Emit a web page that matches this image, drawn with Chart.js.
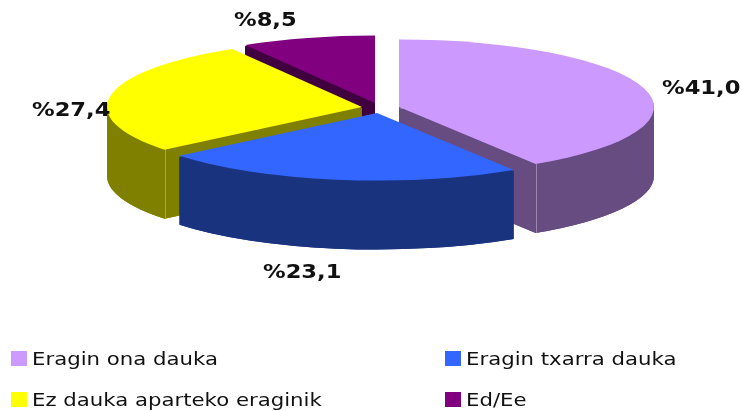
<!DOCTYPE html>
<html>
<head>
<meta charset="utf-8">
<style>
  html, body { margin: 0; padding: 0; background: #fff; }
  canvas { display: block; }
</style>
<script src="https://cdn.jsdelivr.net/npm/chart.js@4"></script>
</head>
<body>
<canvas id="pie" width="742" height="411"></canvas>
<script>
// Data
const categories = ['Eragin ona dauka', 'Eragin txarra dauka', 'Ez dauka aparteko eraginik', 'Ed/Ee'];
const values = [41.0, 23.1, 27.4, 8.5];
const topColors = ['#CC99FF', '#3366FF', '#FFFF00', '#800080'];
const sideColors = ['#664C80', '#19337F', '#808000', '#400040'];

// 3D look
const R = 255;          // radius on screen, x axis
const RY = 67.5;        // radius on screen, y axis
const DEPTH = 69;
const EXPLODE = 19;
const CY = 108;
const drawOrder = [3, 0, 2, 1]; // back to front

const fmt = v => '%' + v.toFixed(1).replace('.', ',');

function geom(arc) {
    const mid = (arc.startAngle + arc.endAngle) / 2;
    return {
        // whole pixels, so the straight vertical cuts stay crisp
        x: Math.round(arc.x + Math.cos(mid) * EXPLODE),
        y: Math.round(CY + Math.sin(mid) * EXPLODE * RY / R),
        r: arc.outerRadius,
        a0: arc.startAngle,
        a1: arc.endAngle
    };
}

function drawSide(ctx, arc, color) {
    const g = geom(arc);
    const ry = g.r * RY / R;
    const top = g.y + 1; // 1px under the top face, no dark fringe on the back edge
    const bottom = g.y + DEPTH;
    ctx.fillStyle = color;
    // bottom face
    ctx.beginPath();
    ctx.moveTo(g.x, bottom);
    ctx.ellipse(g.x, bottom, g.r, ry, 0, g.a0, g.a1);
    ctx.closePath();
    ctx.fill();
    // outer wall, split where the ellipse turns back so each band stays simple
    const cuts = [g.a0, ...[0, Math.PI].filter(a => a > g.a0 && a < g.a1), g.a1];
    for (let k = 0; k < cuts.length - 1; k++) {
        ctx.beginPath();
        ctx.ellipse(g.x, top, g.r, ry, 0, cuts[k], cuts[k + 1]);
        ctx.ellipse(g.x, bottom, g.r, ry, 0, cuts[k + 1], cuts[k], true);
        ctx.closePath();
        ctx.fill();
    }
    // the two cut faces
    [g.a0, g.a1].forEach(a => {
        const px = g.x + Math.cos(a) * g.r;
        const py = Math.sin(a) * ry;
        ctx.beginPath();
        ctx.moveTo(g.x, top);
        ctx.lineTo(px, top + py);
        ctx.lineTo(px, bottom + py);
        ctx.lineTo(g.x, bottom);
        ctx.closePath();
        ctx.fill();
    });
}

// thin light line on the corners that face the viewer
function drawCorner(ctx, arc, angle, color) {
    const g = geom(arc);
    const x = Math.round(g.x + Math.cos(angle) * g.r) + 0.5;
    const y = g.y + Math.sin(angle) * g.r * RY / R;
    ctx.strokeStyle = color;
    ctx.lineWidth = 1;
    ctx.beginPath();
    ctx.moveTo(x, y);
    ctx.lineTo(x, y + DEPTH);
    ctx.stroke();
}

// the reference font is wider than DejaVu, stretch it sideways
function wideText(ctx, text, x, y, sx) {
    ctx.save();
    ctx.translate(x, y);
    ctx.scale(sx, 1);
    ctx.fillText(text, 0, 0);
    ctx.restore();
}

const pie3d = {
    id: 'pie3d',
    beforeDatasetDraw(chart) {
        const ctx = chart.ctx;
        const arcs = chart.getDatasetMeta(0).data;
        drawOrder.forEach(i => {
            const g = geom(arcs[i]);
            drawSide(ctx, arcs[i], sideColors[i]);
            if (i === 0) drawCorner(ctx, arcs[i], arcs[i].endAngle, '#9C86B2');
            if (i === 2) drawCorner(ctx, arcs[i], arcs[i].startAngle, '#A8A840');
            ctx.save();
            ctx.translate(g.x, g.y);
            ctx.scale(1, RY / R);
            ctx.translate(-arcs[i].x, -arcs[i].y);
            arcs[i].draw(ctx);
            ctx.restore();
        });
        return false;
    },
    afterDraw(chart) {
        const ctx = chart.ctx;
        ctx.save();
        ctx.fillStyle = '#111';
        ctx.textBaseline = 'alphabetic';
        // value labels
        ctx.font = 'bold 20px "DejaVu Sans"';
        const spots = [[662, 94], [263, 278], [32, 116], [234, 26]];
        values.forEach((v, i) => wideText(ctx, fmt(v), spots[i][0], spots[i][1], 1.13));
        // legend, two columns
        ctx.font = '18px "DejaVu Sans"';
        const cells = [[11, 351], [445, 351], [11, 392], [445, 392]];
        categories.forEach((name, i) => {
            ctx.fillStyle = topColors[i];
            ctx.fillRect(cells[i][0], cells[i][1], 16, 15);
            ctx.fillStyle = '#111';
            wideText(ctx, name, cells[i][0] + 21, cells[i][1] + 14, 1.18);
        });
        ctx.restore();
    }
};

new Chart(document.getElementById('pie').getContext('2d'), {
    type: 'pie',
    data: {
        labels: categories,
        datasets: [{
            data: values,
            backgroundColor: topColors,
            borderWidth: 0
        }]
    },
    options: {
        responsive: false,
        animation: false,
        radius: R,
        layout: { padding: { left: 19 } },
        plugins: {
            legend: { display: false },
            tooltip: { enabled: false }
        }
    },
    plugins: [pie3d]
});
</script>
</body>
</html>
